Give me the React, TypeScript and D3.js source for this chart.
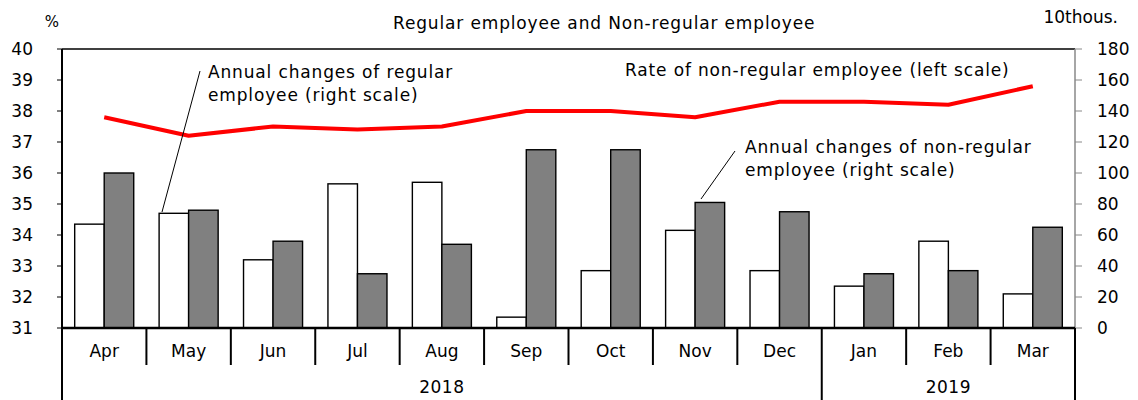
import React from "react";
import * as d3 from "d3";

const months = ["Apr", "May", "Jun", "Jul", "Aug", "Sep", "Oct", "Nov", "Dec", "Jan", "Feb", "Mar"];
const years = [
  { label: "2018", from: "Apr", to: "Dec" },
  { label: "2019", from: "Jan", to: "Mar" },
];
// annual changes, 10 thousand persons (right scale)
const regular = [67, 74, 44, 93, 94, 7, 37, 63, 37, 27, 56, 22];
const nonRegular = [100, 76, 56, 35, 54, 115, 115, 81, 75, 35, 37, 65];
// rate of non-regular employee, % (left scale)
const rate = [37.8, 37.2, 37.5, 37.4, 37.5, 38.0, 38.0, 37.8, 38.3, 38.3, 38.2, 38.8];
const leftTicks = [31, 32, 33, 34, 35, 36, 37, 38, 39, 40];
const rightTicks = [0, 20, 40, 60, 80, 100, 120, 140, 160, 180];

const W = 1138;
const H = 400;
const margin = { top: 49, right: 63, bottom: 72, left: 62 };
const font = "'DejaVu Sans', Verdana, sans-serif";
const ls = 0.85; // letter spacing of the long labels

const App = () => {
  const x0 = margin.left;
  const x1 = W - margin.right;
  const yTop = margin.top;
  const yBase = H - margin.bottom;

  const x = d3.scaleBand<string>().domain(months).range([x0, x1]).paddingInner(0).paddingOuter(0);
  const sub = d3.scaleBand<string>().domain(["reg", "non"]).range([0, x.bandwidth()]).paddingInner(0).paddingOuter(0.43);
  const yL = d3.scaleLinear().domain([31, 40]).range([yBase, yTop]);
  const yR = d3.scaleLinear().domain([0, 180]).range([yBase, yTop]);

  const line = d3.line<number>()
    .x((_, i) => (x(months[i]) as number) + x.bandwidth() / 2)
    .y(d => yL(d));

  const monthSeps = months.map(m => x(m) as number).concat([x1]);
  const yearEdges = new Set<number>();
  years.forEach(yr => {
    yearEdges.add(x(yr.from) as number);
    yearEdges.add((x(yr.to) as number) + x.bandwidth());
  });

  return (
    <div style={{ position: "fixed", left: 0, top: 0 }}>
      <svg width={W} height={H} style={{ display: "block", fontFamily: font }}>
        <rect width={W} height={H} fill="#fff" />

        {/* bars */}
        {months.map((m, i) => (
          <g key={m} transform={`translate(${x(m)},0)`}>
            <rect x={sub("reg")} y={yR(regular[i])} width={sub.bandwidth()} height={yBase - yR(regular[i])}
              fill="#fff" stroke="#000" strokeWidth={1.4} />
            <rect x={sub("non")} y={yR(nonRegular[i])} width={sub.bandwidth()} height={yBase - yR(nonRegular[i])}
              fill="#808080" stroke="#000" strokeWidth={1.4} />
          </g>
        ))}

        {/* rate line */}
        <path d={line(rate) as string} fill="none" stroke="#ff0000" strokeWidth={4} strokeLinejoin="round" />

        {/* frame */}
        <line x1={x0} x2={x1} y1={yTop} y2={yTop} stroke="#000" strokeWidth={1.5} />
        <line x1={x1} x2={x1} y1={yTop} y2={yBase} stroke="#888" strokeWidth={1.5} />
        <line x1={x0} x2={x0} y1={yTop} y2={H} stroke="#000" strokeWidth={2} />

        {/* left axis */}
        {leftTicks.map(t => (
          <g key={"l" + t}>
            <line x1={x0 - 5} x2={x0} y1={yL(t)} y2={yL(t)} stroke="#000" strokeWidth={1} />
            <text x={33} y={yL(t)} dy="0.36em" textAnchor="end" fontSize={17}>{t}</text>
          </g>
        ))}
        {/* right axis */}
        {rightTicks.map(t => (
          <g key={"r" + t}>
            <line x1={x1} x2={x1 + 7} y1={yR(t)} y2={yR(t)} stroke="#888" strokeWidth={1} />
            <text x={1097} y={yR(t)} dy="0.36em" textAnchor="start" fontSize={17}>{t}</text>
          </g>
        ))}

        {/* category axis */}
        <line x1={x0} x2={x1} y1={yBase} y2={yBase} stroke="#000" strokeWidth={2.5} />
        {monthSeps.map((sx, i) => (
          <line key={"s" + i} x1={sx} x2={sx} y1={yBase} y2={yearEdges.has(sx) ? H : 365} stroke="#000" strokeWidth={2} />
        ))}
        {months.map(m => (
          <text key={"t" + m} x={(x(m) as number) + x.bandwidth() / 2} y={351} dy="0.36em" textAnchor="middle" fontSize={17}>{m}</text>
        ))}
        {years.map(yr => {
          const a = x(yr.from) as number;
          const b = (x(yr.to) as number) + x.bandwidth();
          return (
            <text key={yr.label} x={(a + b) / 2} y={387} dy="0.36em" textAnchor="middle" fontSize={17} letterSpacing={0.5}>{yr.label}</text>
          );
        })}

        {/* titles */}
        <text x={393} y={23} dy="0.36em" fontSize={17} letterSpacing={ls}>Regular employee and Non-regular employee</text>
        <text x={52} y={22} dy="0.36em" textAnchor="middle" fontSize={15}>%</text>
        <text x={1118} y={17} dy="0.36em" textAnchor="end" fontSize={17}>10thous.</text>

        {/* annotations */}
        <line x1={200} y1={71} x2={162} y2={212} stroke="#000" strokeWidth={1} />
        <text x={208} y={72} dy="0.36em" fontSize={17} letterSpacing={ls}>Annual changes of regular</text>
        <text x={208} y={95} dy="0.36em" fontSize={17} letterSpacing={ls}>employee (right scale)</text>
        <text x={625} y={70} dy="0.36em" fontSize={17} letterSpacing={ls}>Rate of non-regular employee (left scale)</text>
        <line x1={735} y1={151} x2={701} y2={199} stroke="#000" strokeWidth={1} />
        <text x={745} y={147} dy="0.36em" fontSize={17} letterSpacing={ls}>Annual changes of non-regular</text>
        <text x={745} y={170} dy="0.36em" fontSize={17} letterSpacing={ls}>employee (right scale)</text>
      </svg>
    </div>
  );
};

export default App;
